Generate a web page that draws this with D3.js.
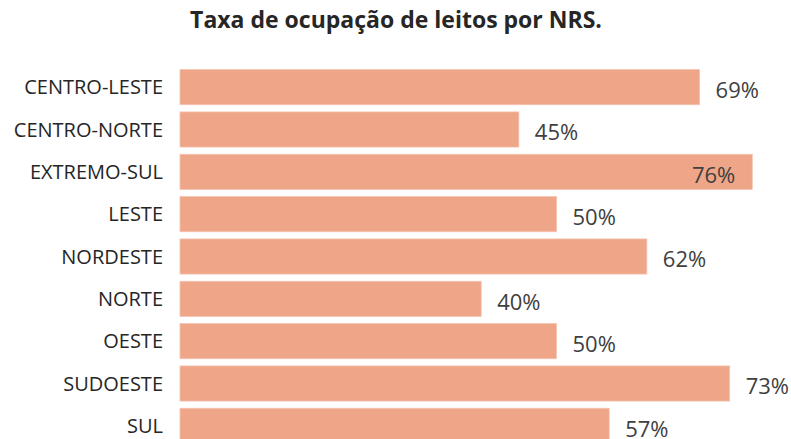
<!DOCTYPE html>
<html>
<head>
<meta charset="utf-8">
<script src="https://cdn.jsdelivr.net/npm/d3@7"></script>
<style>
  body { margin: 0; background: #fff; }
  text { font-family: "Open Sans", sans-serif; }
</style>
</head>
<body>
<svg id="chart" width="791" height="439"></svg>
<script>
var regions = ['CENTRO-LESTE', 'CENTRO-NORTE', 'EXTREMO-SUL', 'LESTE', 'NORDESTE', 'NORTE', 'OESTE', 'SUDOESTE', 'SUL'];
var occupancy = [0.69, 0.45, 0.76, 0.50, 0.62, 0.40, 0.50, 0.73, 0.57];
var title = 'Taxa de ocupação de leitos por NRS.';

var svg = d3.select('#chart');
var width = 791;

var x = d3.scaleLinear()
    .domain([0, 1])
    .range([180, 933]);

var y = d3.scaleBand()
    .domain(regions)
    .range([66, 447])
    .paddingInner(0.17)
    .paddingOuter(0.085);

var fmt = d3.format('.0%');

svg.append('text')
    .attr('x', 396)
    .attr('y', 28)
    .attr('text-anchor', 'middle')
    .style('font-size', '23px')
    .style('font-weight', 'bold')
    .style('fill', '#262626')
    .text(title);

var rows = svg.selectAll('g.row')
    .data(regions.map(function (r, i) { return { region: r, value: occupancy[i] }; }))
    .enter()
    .append('g')
    .attr('class', 'row');

rows.append('rect')
    .attr('x', x(0))
    .attr('y', function (d) { return y(d.region); })
    .attr('width', function (d) { return x(d.value) - x(0); })
    .attr('height', y.bandwidth())
    .style('fill', '#eea588')
    .style('stroke', '#f4c4b0')
    .style('stroke-width', 0.8);

rows.append('text')
    .attr('x', x(0) - 17)
    .attr('y', function (d) { return y(d.region) + y.bandwidth() / 2; })
    .attr('dy', '0.35em')
    .attr('text-anchor', 'end')
    .style('font-size', '20px')
    .style('fill', '#262626')
    .text(function (d) { return d.region; });

// data labels: outside the bar unless they would run off the page
rows.append('text')
    .each(function (d) {
        var inside = x(d.value) + 60 > width;
        d3.select(this)
            .attr('x', inside ? x(d.value) - 17 : x(d.value) + 16)
            .attr('text-anchor', inside ? 'end' : 'start');
    })
    .attr('y', function (d) { return y(d.region) + y.bandwidth() / 2 + 3; })
    .attr('dy', '0.35em')
    .style('font-size', '22px')
    .style('fill', '#404040')
    .text(function (d) { return fmt(d.value); });
</script>
</body>
</html>
